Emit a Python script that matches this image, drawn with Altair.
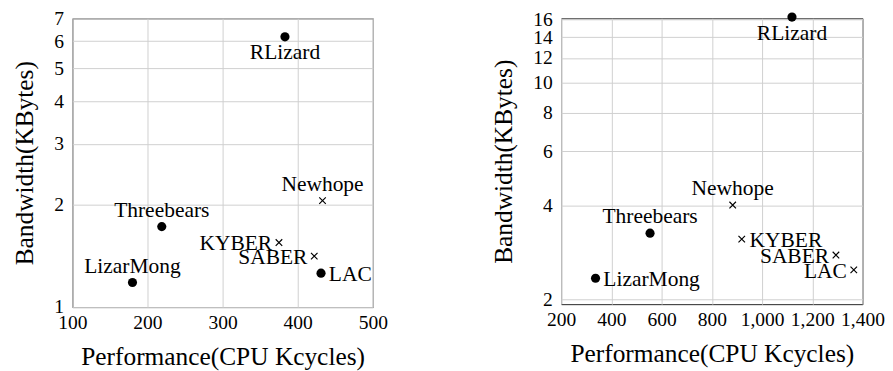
import altair as alt
import pandas as pd

# ---------------- data ----------------
names = ["RLizard", "Newhope", "Threebears", "KYBER", "SABER", "LAC", "LizarMong"]

left_perf = [383, 433, 219, 375, 422, 431, 180]
left_bw = [6.18, 2.05, 1.72, 1.545, 1.41, 1.257, 1.18]
left_marker = ["circle", "cross", "circle", "cross", "cross", "circle", "circle"]

right_perf = [1119, 883, 554, 919, 1294, 1365, 337]
right_bw = [16.27, 4.03, 3.27, 3.13, 2.78, 2.49, 2.34]
right_marker = ["circle", "cross", "circle", "cross", "cross", "cross", "circle"]

left_xticks = [100, 200, 300, 400, 500]
left_yticks = [1, 2, 3, 4, 5, 6, 7]
right_xticks = [200, 400, 600, 800, 1000, 1200, 1400]
right_yticks = [2, 4, 6, 8, 10, 12, 14, 16]

left_anchor = ["below", "above", "above", "left", "left", "right", "above"]
right_anchor = ["below", "above", "above", "right", "left", "left", "right"]

FONT = "Liberation Serif"
XSHAPE = "M-1,-1L1,1M-1,1L1,-1"


def panel(perf, bw, marker, anchor, xdom, ydom, xticks, yticks, xfmt, w, h):
    df = pd.DataFrame({"name": names, "perf": perf, "bw": bw,
                       "marker": marker, "anchor": anchor})
    x = alt.X("perf:Q", scale=alt.Scale(domain=xdom, nice=False, zero=False),
              axis=alt.Axis(values=xticks, format=xfmt, title="Performance(CPU Kcycles)",
                            labelPadding=6, titlePadding=12, labelOverlap=False,
                            labelFlush=False))
    y = alt.Y("bw:Q", scale=alt.Scale(type="log", domain=ydom, nice=False),
              axis=alt.Axis(values=yticks, format="d", title="Bandwidth(KBytes)",
                            labelPadding=9, titlePadding=17, labelOverlap=False,
                            labelFlush=False))
    base = alt.Chart(df).encode(x=x, y=y)
    circles = base.transform_filter(alt.datum.marker == "circle").mark_point(
        shape="circle", filled=True, color="black", size=88, opacity=1)
    crosses = base.transform_filter(alt.datum.marker == "cross").mark_point(
        shape=XSHAPE, filled=False, color="black", size=45, strokeWidth=1.2, opacity=1)
    tstyle = dict(font=FONT, fontSize=22, color="black", baseline="middle")
    above = base.transform_filter(alt.datum.anchor == "above").mark_text(
        align="center", dy=-17, **tstyle).encode(text="name:N")
    below = base.transform_filter(alt.datum.anchor == "below").mark_text(
        align="center", dy=16, **tstyle).encode(text="name:N")
    left = base.transform_filter(alt.datum.anchor == "left").mark_text(
        align="right", dx=-7, dy=1, **tstyle).encode(text="name:N")
    right = base.transform_filter(alt.datum.anchor == "right").mark_text(
        align="left", dx=8, dy=1, **tstyle).encode(text="name:N")
    return alt.layer(circles, crosses, above, below, left, right).properties(width=w, height=h)


left_chart = panel(left_perf, left_bw, left_marker, left_anchor, [100, 500], [1, 7],
                   left_xticks, left_yticks, "d", 308, 296)
right_chart = panel(right_perf, right_bw, right_marker, right_anchor, [200, 1400], [1.93, 16.12],
                    right_xticks, right_yticks, ",d", 309, 293)

chart = alt.hconcat(left_chart, right_chart, spacing=104).properties(
    padding={"left": 3, "top": -5, "right": 0, "bottom": 0}
).configure_view(
    stroke="#222222", strokeWidth=1
).configure_axis(
    labelFont=FONT, labelFontSize=20, labelColor="black",
    titleFont=FONT, titleFontSize=26, titleFontWeight="normal", titleColor="black",
    gridColor="#cfcfcf", gridWidth=1, ticks=False, domain=False
)

chart.save("out.html", embed_options={"renderer": "svg", "actions": False})
